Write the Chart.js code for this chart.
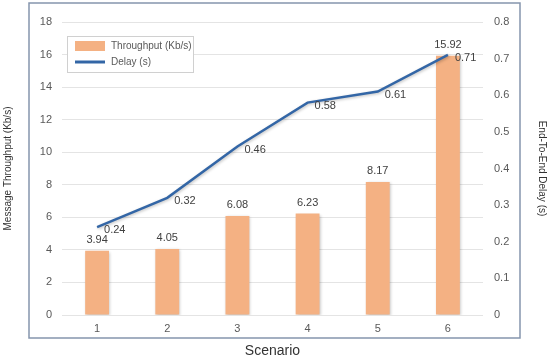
<!DOCTYPE html>
<html>
<head>
<meta charset="utf-8">
<script src="https://cdn.jsdelivr.net/npm/chart.js@4"></script>
<style>
  html, body { margin: 0; padding: 0; background: #fff; }
  #wrap { width: 550px; height: 362px; }
</style>
</head>
<body>
<div id="wrap"><canvas id="chart" width="550" height="362"></canvas></div>
<script>
const scenarios = ['1', '2', '3', '4', '5', '6'];
const throughput = [3.94, 4.05, 6.08, 6.23, 8.17, 15.92];
const delay = [0.24, 0.32, 0.46, 0.58, 0.61, 0.71];

const barColor = '#f4b183';
const lineColor = '#3366a6';
const textColor = '#595959';
const labelColor = '#404040';

// soft shadow under bars and line
const shadows = {
    id: 'shadows',
    beforeDatasetDraw(chart) {
        const ctx = chart.ctx;
        ctx.save();
        ctx.shadowColor = 'rgba(0,0,0,0.25)';
        ctx.shadowBlur = 3;
        ctx.shadowOffsetX = 1;
        ctx.shadowOffsetY = 1;
    },
    afterDatasetDraw(chart) {
        chart.ctx.restore();
    }
};

// frame around the chart + legend + value labels
const extras = {
    id: 'extras',
    beforeDraw(chart) {
        const ctx = chart.ctx;
        ctx.save();
        ctx.fillStyle = '#fff';
        ctx.fillRect(0, 0, chart.width, chart.height);
        ctx.restore();
    },
    afterDraw(chart) {
        const ctx = chart.ctx;
        const a = chart.chartArea;
        ctx.save();
        ctx.strokeStyle = '#8595ad';
        ctx.lineWidth = 1.5;
        ctx.strokeRect(a.left - 33, a.top - 19, (a.right + 37) - (a.left - 33), (a.bottom + 23) - (a.top - 19));

        // legend
        const lx = a.left + 5, ly = a.top + 14;
        ctx.fillStyle = '#fff';
        ctx.fillRect(lx, ly, 126, 36);
        ctx.strokeStyle = '#d0d0d0';
        ctx.lineWidth = 1;
        ctx.strokeRect(lx + 0.5, ly + 0.5, 126, 36);
        ctx.fillStyle = barColor;
        ctx.fillRect(lx + 8, ly + 5, 30, 10);
        ctx.strokeStyle = lineColor;
        ctx.lineWidth = 3;
        ctx.beginPath();
        ctx.moveTo(lx + 8, ly + 26);
        ctx.lineTo(lx + 38, ly + 26);
        ctx.stroke();
        ctx.fillStyle = textColor;
        ctx.font = '10px "Liberation Sans", Arial, sans-serif';
        ctx.textBaseline = 'middle';
        ctx.textAlign = 'left';
        ctx.fillText('Throughput (Kb/s)', lx + 44, ly + 10);
        ctx.fillText('Delay (s)', lx + 44, ly + 26);

        // value labels
        ctx.fillStyle = labelColor;
        ctx.font = '11px "Liberation Sans", Arial, sans-serif';
        const bars = chart.getDatasetMeta(0).data;
        ctx.textAlign = 'center';
        bars.forEach((b, i) => {
            ctx.fillText(throughput[i].toFixed(2), b.x, b.y - 11);
        });
        const pts = chart.getDatasetMeta(1).data;
        ctx.textAlign = 'left';
        pts.forEach((p, i) => {
            ctx.fillText(delay[i].toFixed(2), p.x + 7, p.y + 3);
        });
        ctx.restore();
    }
};

const ctx = document.getElementById('chart').getContext('2d');
new Chart(ctx, {
    data: {
        labels: scenarios,
        datasets: [{
            type: 'bar',
            label: 'Throughput (Kb/s)',
            data: throughput,
            backgroundColor: barColor,
            borderWidth: 0,
            categoryPercentage: 1,
            barPercentage: 0.34,
            yAxisID: 'y',
            order: 2
        }, {
            type: 'line',
            label: 'Delay (s)',
            data: delay,
            borderColor: lineColor,
            backgroundColor: lineColor,
            borderWidth: 2.5,
            pointRadius: 0,
            tension: 0,
            yAxisID: 'y1',
            order: 1
        }]
    },
    options: {
        responsive: false,
        animation: false,
        layout: { padding: { top: 22, left: 0, right: 0, bottom: 0 } },
        plugins: {
            legend: { display: false },
            tooltip: { enabled: false }
        },
        scales: {
            x: {
                grid: { display: false, drawTicks: false },
                border: { display: false },
                ticks: { color: textColor, font: { size: 11, family: '"Liberation Sans", Arial' }, padding: 7 },
                title: { display: true, text: 'Scenario', color: '#333', font: { size: 14, family: '"Liberation Sans", Arial' }, padding: { top: 4, bottom: 2 } },
                afterFit(s) { s.height = 47; }
            },
            y: {
                position: 'left',
                min: 0,
                max: 18,
                ticks: { stepSize: 2, color: textColor, font: { size: 11, family: '"Liberation Sans", Arial' }, padding: 10 },
                grid: { color: '#e4e4e4', drawTicks: false },
                border: { display: false },
                title: { display: true, text: 'Message Throughput (Kb/s)', color: '#333', font: { size: 10, family: '"Liberation Sans", Arial' }, padding: { top: 2, bottom: 2 } },
                afterFit(s) { s.width = 62; }
            },
            y1: {
                position: 'right',
                min: 0,
                max: 0.8,
                ticks: { stepSize: 0.1, color: textColor, font: { size: 11, family: '"Liberation Sans", Arial' }, padding: 11 },
                grid: { display: false, drawTicks: false },
                border: { display: false },
                title: { display: true, text: 'End-To-End Delay (s)', color: '#333', font: { size: 10, family: '"Liberation Sans", Arial' }, padding: { top: 2, bottom: 2 } },
                afterFit(s) { s.width = 67; }
            }
        }
    },
    plugins: [shadows, extras]
});
</script>
</body>
</html>
